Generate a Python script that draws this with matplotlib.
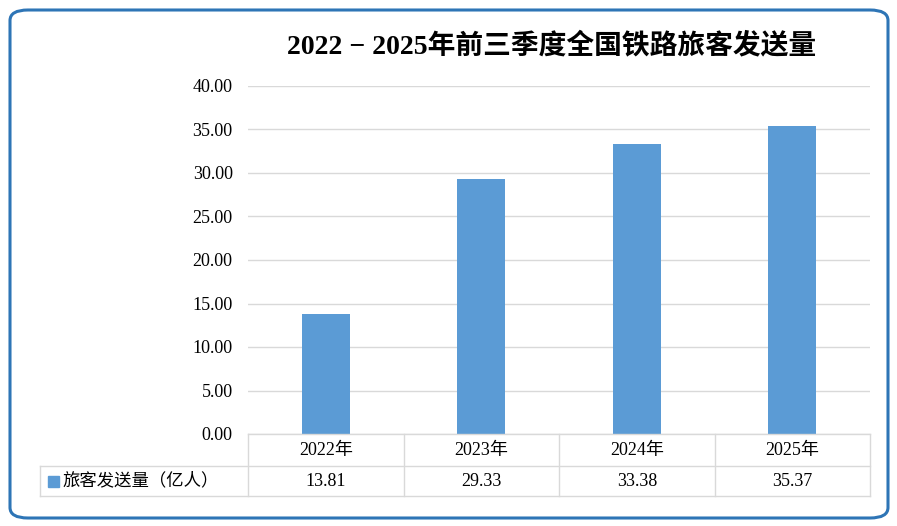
import matplotlib

matplotlib.use("Agg")
import matplotlib.pyplot as plt
from matplotlib.lines import Line2D
from matplotlib.patches import FancyBboxPatch, Rectangle

plt.rcParams["font.family"] = ["Liberation Serif", "Noto Sans CJK SC"]

# data
years = ["2022年", "2023年", "2024年", "2025年"]
passengers = [13.81, 29.33, 33.38, 35.37]
series_name = "旅客发送量（亿人）"
title = "2022 − 2025年前三季度全国铁路旅客发送量"
yticks = [0, 5, 10, 15, 20, 25, 30, 35, 40]

BLUE = "#5B9BD5"
GRID = "#D9D9D9"
W, H = 897, 526

fig = plt.figure(figsize=(W / 100, H / 100), dpi=100)


def fx(px):
    return px / W


def fy(py):
    return 1 - py / H


# rounded outer frame
frame = FancyBboxPatch((fx(10), fy(518)), fx(878), 508 / H,
                       boxstyle="round,pad=0,rounding_size=0.02",
                       transform=fig.transFigure, fill=False,
                       edgecolor="#2E75B6", linewidth=2.2)
fig.add_artist(frame)

ax_l, ax_r, ax_t, ax_b = 248, 870, 86, 434
ax = fig.add_axes([fx(ax_l), fy(ax_b), fx(ax_r - ax_l), (ax_b - ax_t) / H])
x = range(len(years))
ax.bar(x, passengers, width=0.31, color=BLUE, zorder=3)
ax.set_xlim(-0.5, len(years) - 0.5)
ax.set_ylim(0, 40)
ax.set_yticks(yticks)
ax.set_yticklabels([f"{v:.2f}" for v in yticks], fontsize=13)
ax.set_xticks([])
ax.grid(axis="y", color=GRID, linewidth=1, zorder=0)
ax.tick_params(axis="y", length=0, pad=11)
for s in ax.spines.values():
    s.set_visible(False)

fig.text(fx(552), fy(46), title, ha="center", va="center",
         fontsize=20, fontweight="bold")

# data table under the plot
row1, row2, row3 = 434, 466, 496
tab_l = 40
col_w = (ax_r - ax_l) / len(years)
lines = [
    (ax_l, ax_r, row1, row1),
    (tab_l, ax_r, row2, row2),
    (tab_l, ax_r, row3, row3),
    (tab_l, tab_l, row2, row3),
]
for i in range(len(years) + 1):
    xc = ax_l + i * col_w
    lines.append((xc, xc, row1, row3))
for x0, x1, y0, y1 in lines:
    fig.add_artist(Line2D([fx(x0), fx(x1)], [fy(y0), fy(y1)],
                          color=GRID, linewidth=1))

for i, (yr, v) in enumerate(zip(years, passengers)):
    xc = ax_l + (i + 0.5) * col_w
    fig.text(fx(xc), fy((row1 + row2) / 2 + 1), yr, ha="center", va="center",
             fontsize=13)
    fig.text(fx(xc), fy((row2 + row3) / 2 + 1), f"{v:.2f}", ha="center",
             va="center", fontsize=13)

fig.add_artist(Rectangle((fx(48), fy(487)), fx(11), 11 / H, color=BLUE,
                         transform=fig.transFigure))
fig.text(fx(62), fy((row2 + row3) / 2), series_name, ha="left", va="center",
         fontsize=12.5)

fig.savefig("out.png", dpi=100)
